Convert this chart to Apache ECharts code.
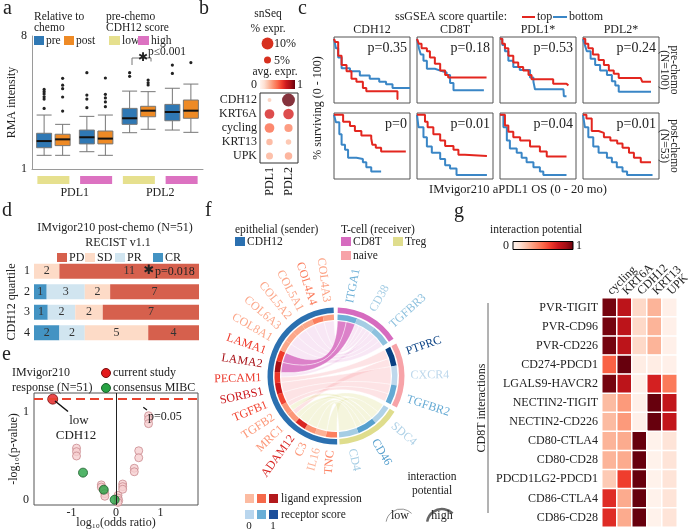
<!DOCTYPE html>
<html>
<head>
<meta charset="utf-8">
<script src="https://cdn.jsdelivr.net/npm/echarts@6/dist/echarts.min.js"></script>
<style>html,body{margin:0;padding:0;background:#fff;}#chart{width:688px;height:532px;}</style>
</head>
<body>
<div id="chart"></div>
<script>
// ================= DATA =================
// Panel a: RMA intensity boxplots [min, Q1, median, Q3, max]
const aCats = ['PDL1 low', 'PDL1 high', 'PDL2 low', 'PDL2 high'];
const aScore = ['low', 'high', 'low', 'high'];
const aGenes = ['PDL1', 'PDL2'];
const aPre = [[1.72, 2.12, 2.47, 2.88, 3.84], [1.91, 2.32, 2.67, 3.05, 3.77], [2.91, 3.35, 3.67, 4.19, 5.10], [3.05, 3.54, 4.00, 4.40, 5.25]];
const aPost = [[1.72, 2.23, 2.56, 2.83, 3.35], [1.72, 2.32, 2.60, 3.00, 3.84], [3.09, 3.75, 4.07, 4.30, 5.07], [2.93, 3.67, 4.07, 4.63, 5.47]];
const aPreOut = [[0, 4.19], [0, 4.68], [0, 4.80], [0, 4.95], [0, 5.07], [0, 5.19], [1, 4.23], [1, 4.68], [1, 4.89], [1, 6.07], [2, 5.88], [2, 6.07], [3, 6.03], [3, 6.47]];
const aPostOut = [[0, 4.05], [0, 4.79], [0, 5.23], [0, 5.41], [0, 5.77], [1, 4.28], [1, 4.53], [1, 4.74], [1, 4.93], [1, 5.79], [2, 5.42], [2, 5.54], [2, 5.68], [3, 6.60]];

// Panel b: snSeq dot plot
const bGenes = ['CDH12', 'KRT6A', 'cycling', 'KRT13', 'UPK'];
const bGroups = ['PDL1', 'PDL2'];
const bExprPDL1 = [0.20, 0.72, 0.50, 0.30, 0.28];
const bExprPDL2 = [1.00, 0.72, 0.42, 0.25, 0.32];
const bPctPDL1 = [3.3, 8.3, 8.3, 5.5, 6.0];
const bPctPDL2 = [11.0, 9.0, 7.0, 4.7, 6.4];

// Panel c: Kaplan-Meier curves [months, % surviving]
const cCols = ['CDH12', 'CD8T', 'PDL1*', 'PDL2*'];
const cPreP = ['0.35', '0.18', '0.53', '0.24'];
const cPostP = ['0', '0.01', '0.04', '0.01'];
const cPreCDH12Top = [[0,100],[0.3,95],[1.1,73],[2,58],[3.3,48],[4.6,36],[5.9,31],[7.6,21],[8.5,16],[16.7,3.5],[16.9,3.5]];
const cPreCDH12Bot = [[0,100],[0.5,85],[1.1,70],[2,53],[4.2,48],[6.8,41],[9.4,36],[11.9,31],[13.7,27],[15.4,21],[20,21]];
const cPreCD8TTop = [[0,100],[0.5,92],[1.2,85],[2.6,80],[3.4,70],[4.7,60],[6.1,49],[7.4,42],[8.2,38],[18.3,38]];
const cPreCD8TBot = [[0,100],[0.5,85],[1,75],[1.7,65],[2.6,52],[4.7,49],[6.1,46],[7.8,42],[8.7,29],[9.6,17.5],[17.6,17.5]];
const cPrePDL1Top = [[0,100],[0.6,92],[1.3,85],[2.2,73],[3.5,62],[4.8,55],[6.1,49],[7.5,42],[8.3,35],[13.2,35],[14,28],[17.5,25],[18,25]];
const cPrePDL1Bot = [[0,100],[0.6,90],[1.3,80],[2.2,65],[3.5,55],[5.2,50],[7.9,38],[8.8,31],[9.2,19],[16.7,19],[16.8,8],[17.5,8]];
const cPrePDL2Top = [[0,100],[0.6,92],[1.4,85],[2.6,75],[4.1,66],[5.5,58],[6.8,49],[8.1,44],[9.4,37],[15.2,37],[15.6,31],[17.9,31]];
const cPrePDL2Bot = [[0,100],[0.5,90],[1,80],[2,68],[3.2,58],[4.5,49],[6.3,42],[7.6,32],[8.5,25],[9.4,15],[17.9,15]];
const cPostCDH12Top = [[0,100],[2.4,89],[4.2,82],[5.5,74],[7.2,67],[9.8,62],[10.1,52],[11,47],[12.4,41],[18.9,41]];
const cPostCDH12Bot = [[0,100],[0.5,88],[1.4,69],[2,52],[2.9,44],[3.7,31],[5.9,29],[7.6,24],[8.5,16],[9.8,9],[12.4,9]];
const cPostCD8TTop = [[0,100],[2.1,89],[2.8,80],[4.3,69],[6.1,59],[7.4,50],[9.6,44],[10.9,36],[12.6,34],[18.4,34]];
const cPostCD8TBot = [[0,100],[0.4,80],[1.7,64],[2.6,49],[3.9,39],[6.1,29],[7.4,19],[8.7,14],[10.4,3.5],[18.4,3.5]];
const cPostPDL1Top = [[0,100],[1.3,83],[2.2,73],[3.5,64],[5.3,59],[7.9,49],[10.5,41],[12.3,33],[17.5,33]];
const cPostPDL1Bot = [[0,100],[0.9,80],[1.8,59],[2.6,46],[4.4,39],[5.7,31],[7,24],[8.8,16],[10.5,9],[11.4,3.5],[17.5,3.5]];
const cPostPDL2Top = [[0,100],[0.9,94],[2.3,74],[4.1,71],[5.5,64],[7.2,59],[9,54],[10.4,47],[12.1,39],[13.4,31],[15.2,24],[17.9,24]];
const cPostPDL2Bot = [[0,100],[0.5,80],[1.4,64],[2.7,49],[4.1,39],[6.3,31],[7.6,24],[8.9,16],[10.4,9],[11.6,3.5],[18.3,3.5]];

// Panel d: RECIST counts per CDH12 quartile
const dQuartiles = ['1', '2', '3', '4'];
const dCR = [0, 1, 1, 2];
const dPR = [0, 3, 2, 2];
const dSD = [2, 2, 2, 5];
const dPD = [11, 7, 7, 4];

// Panel e: volcano [log10 OR, -log10 p]
const ePink = [[-0.886,0.59],[-0.886,0.55],[-0.886,0.50],[-0.33,0.17],[-0.33,0.145],[-0.275,0.107],[-0.25,0.07],[-0.25,0.04],
  [0.045,0.05],[0.045,0.02],[0.06,-0.008],[0.045,-0.03],[0.15,0.18],[0.15,0.15],[0.15,0.12],[0.41,0.36],[0.41,0.32],
  [0.51,0.56],[0.51,0.48],[0.73,0.96],[0.73,0.92],[0.73,0.87]];
const eGreen = [[-0.74,0.31],[-0.275,0.115],[-0.03,0.0]];
const eRed = [[-1.42,1.15]];
const eCut = 1.16;

// Panel f: chord diagram
const ligands = ['COL4A3','COL4A4','COL5A1','COL5A2','COL6A3','COL8A1','LAMA1','LAMA2','PECAM1','SORBS1','TGFB1','TGFB2','MRC1','ADAM12','C3','IL16','TNC'];
const ligExpr = [0.33,0.44,0.31,0.31,0.31,0.31,0.63,0.87,0.64,0.75,0.60,0.36,0.36,0.70,0.37,0.28,0.43];
const ligWeight = [10.5,10.5,10.5,10.5,10.5,10.5,10.5,10.5,10.5,10.5,10.5,10.5,10.5,10.5,10.5,10.5,10.5];
const receptors = ['ITGA1','CD38','TGFBR3','PTPRC','CXCR4','TGFBR2','SDC4','CD46','CD4'];
const recCell = ['CD8T','CD8T','CD8T','naive','naive','naive','Treg','Treg','Treg'];
const recScore = [0.42,0.26,0.33,0.93,0.17,0.45,0.22,0.50,0.26];
const recWeight = [18.5,18.5,18.5,18.5,18.5,18.5,18.5,18.5,18.5];
const fGaps = [3.5, 4.5, 4, 2];
const fLinks = [
  ['COL4A3','CD38',0.3],['COL4A4','CD38',0.3],['COL5A1','CD38',0.3],['PECAM1','CD38',0.3],
  ['COL5A2','TGFBR3',0.3],['COL6A3','TGFBR3',0.3],['COL8A1','TGFBR3',0.3],
  ['LAMA1','ITGA1',1],['LAMA2','ITGA1',1],
  ['PECAM1','PTPRC',0.35],['MRC1','PTPRC',0.3],['SORBS1','CXCR4',0.35],['TGFB1','TGFBR2',0.35],['TGFB2','TGFBR2',0.3],
  ['ADAM12','SDC4',0.3],['TNC','SDC4',0.3],['TGFB2','CD46',0.3],['C3','CD46',0.3],['MRC1','CD46',0.3],['IL16','CD4',0.3]
];

// Panel g: interaction potential heatmap
const gCols = ['cycling', 'KRT6A', 'CDH12', 'KRT13', 'UPK'];
const gRows = ['PVR-TIGIT','PVR-CD96','PVR-CD226','CD274-PDCD1','LGALS9-HAVCR2','NECTIN2-TIGIT','NECTIN2-CD226','CD80-CTLA4','CD80-CD28','PDCD1LG2-PDCD1','CD86-CTLA4','CD86-CD28'];
const gVals = [
  [0.97,0.80,0.15,0.27,0.03],
  [0.97,0.80,0.15,0.27,0.03],
  [0.97,0.80,0.15,0.27,0.03],
  [0.52,1.00,0.05,0.05,0.03],
  [0.97,0.80,0.03,0.72,0.45],
  [0.25,0.35,0.03,1.00,0.78],
  [0.25,0.35,0.03,1.00,0.78],
  [0.27,0.30,1.00,0.02,0.10],
  [0.27,0.30,1.00,0.02,0.10],
  [0.20,0.62,1.00,0.02,0.10],
  [0.68,0.30,1.00,0.02,0.10],
  [0.68,0.30,1.00,0.02,0.10]
];

// ================= STYLE =================
const FF = '"Liberation Serif", "Times New Roman", serif';
const INK = '#222';
const COL = {pre:'#2f78b4', post:'#ee8a25', low:'#e6e08e', high:'#dc72c1', top:'#e3261f', bottom:'#3a86c6',
  PD:'#d6604d', SD:'#fddbc7', PR:'#d1e5f0', CR:'#4393c3', CDH12:'#2b70b0', CD8T:'#d66bbf', naive:'#f7a3a8', Treg:'#dfdd8d'};
const REDS = ['#fff5f0','#fee0d2','#fcbba1','#fc9272','#fb6a4a','#ef3b2c','#cb181d','#a50f15','#67000d'];
const BLUES = ['#deebf7','#c6dbef','#9ecae1','#6baed6','#4292c6','#2171b5','#08519c','#08306b'];
function hex(h){ return [1,3,5].map(i => parseInt(h.substr(i,2),16)); }
function lerpColor(t, pal){ t = Math.max(0, Math.min(1, t)); const f = t*(pal.length-1); const i = Math.min(Math.floor(f), pal.length-2); const u = f-i; const c0 = hex(pal[i]), c1 = hex(pal[i+1]); return 'rgb(' + [0,1,2].map(k => Math.round(c0[k]+(c1[k]-c0[k])*u)).join(',') + ')'; }

// ================= BUILD =================
const grids = [], xAxes = [], yAxes = [], series = [], extraX = [];
function addGrid(g, xa, ya){ const i = grids.length; g.outerBoundsMode = 'none'; grids.push(g); xAxes.push(Object.assign({gridIndex:i, nameMoveOverlap:false}, xa)); yAxes.push(Object.assign({gridIndex:i, nameMoveOverlap:false}, ya)); return i; }
const noAx = {axisLine:{show:false}, axisTick:{show:false}, splitLine:{show:false}};

// --- a ---
const gA = addGrid({left:32, top:36, width:171, height:133},
  {type:'category', data:aCats, axisLine:{lineStyle:{color:'#9a9a9a'}}, axisTick:{show:false}, axisLabel:{show:false}},
  {type:'value', min:1, max:8, interval:7, axisLine:{show:true, lineStyle:{color:'#9a9a9a'}}, axisTick:{show:false}, splitLine:{show:false},
   axisLabel:{fontSize:12, margin:5, color:INK}, name:'RMA intensity', nameLocation:'middle', nameGap:14, nameTextStyle:{fontSize:12, color:INK}});
series.push({type:'boxplot', xAxisIndex:gA, yAxisIndex:gA, data:aPre, boxWidth:[15,15], silent:true, itemStyle:{color:COL.pre, borderColor:'#777', borderWidth:1}});
series.push({type:'boxplot', xAxisIndex:gA, yAxisIndex:gA, data:aPost, boxWidth:[15,15], silent:true, itemStyle:{color:COL.post, borderColor:'#777', borderWidth:1}});
function boxOffset(api, sign){ const bw = api.size([1,0])[0]; return sign*0.2875*(0.8*bw-2); }
function medianSeries(boxes, sign){
  return {type:'custom', xAxisIndex:gA, yAxisIndex:gA, silent:true, z:5, data: boxes.map((b,i)=>[i, b[2]]),
    renderItem(params, api){ const p = api.coord([api.value(0), api.value(1)]); const o = boxOffset(api, sign);
      return {type:'line', shape:{x1:p[0]+o-7.5, y1:p[1], x2:p[0]+o+7.5, y2:p[1]}, style:{stroke:'#111', lineWidth:2}}; }};
}
function outlierSeries(data, sign){
  return {type:'custom', xAxisIndex:gA, yAxisIndex:gA, silent:true, z:5, data,
    renderItem(params, api){ const p = api.coord([api.value(0), api.value(1)]); const o = boxOffset(api, sign);
      return {type:'circle', shape:{cx:p[0]+o, cy:p[1], r:1.6}, style:{fill:'#222'}}; }};
}
series.push(medianSeries(aPre, -1), medianSeries(aPost, 1), outlierSeries(aPreOut, -1), outlierSeries(aPostOut, 1));
const gA2 = addGrid({left:32, top:176, width:171, height:8},
  {type:'category', data:aCats, show:false}, {type:'value', min:0, max:1, show:false});
series.push({type:'bar', xAxisIndex:gA2, yAxisIndex:gA2, barWidth:32, silent:true,
  data: aScore.map(s => ({value:1, itemStyle:{color: s==='low' ? COL.low : COL.high}}))});
extraX.push({gridIndex:gA2, type:'category', data:aGenes, position:'bottom', axisLine:{show:false}, axisTick:{show:false}, axisLabel:{fontSize:12, margin:3, color:INK}});

// --- b ---
const gB = addGrid({left:260, top:93, width:38, height:70, show:true, borderColor:'#333', borderWidth:1},
  Object.assign({type:'category', data:bGroups, axisLabel:{rotate:90, fontSize:12, margin:4, color:INK}}, noAx),
  Object.assign({type:'category', data:bGenes, inverse:true, axisLabel:{fontSize:12, margin:3, color:INK, interval:0}}, noAx));
const bData = [];
bGenes.forEach((g,i) => { bData.push([0, i, bExprPDL1[i], bPctPDL1[i]]); bData.push([1, i, bExprPDL2[i], bPctPDL2[i]]); });
const sB = series.length;
series.push({type:'scatter', xAxisIndex:gB, yAxisIndex:gB, data:bData, symbolSize: v => v[3]*1.17, silent:true});

// --- c ---
const cCurves = [
  [[cPreCDH12Top, cPreCDH12Bot], [cPreCD8TTop, cPreCD8TBot], [cPrePDL1Top, cPrePDL1Bot], [cPrePDL2Top, cPrePDL2Bot]],
  [[cPostCDH12Top, cPostCDH12Bot], [cPostCD8TTop, cPostCD8TBot], [cPostPDL1Top, cPostPDL1Bot], [cPostPDL2Top, cPostPDL2Bot]]
];
const cLeft = [334, 417, 500, 583], cTop = [37, 113], cW = 76, cH = 66;
cCurves.forEach((row, r) => row.forEach((pair, c) => {
  const gi = addGrid({left:cLeft[c], top:cTop[r], width:cW, height:cH, show:true, borderColor:'#555', borderWidth:1},
    {type:'value', min:0, max:20, show:false}, {type:'value', min:-3, max:103, show:false});
  series.push({type:'line', xAxisIndex:gi, yAxisIndex:gi, step:'end', symbol:'none', silent:true, data:pair[1], lineStyle:{width:2, color:COL.bottom}, itemStyle:{color:COL.bottom}});
  series.push({type:'line', xAxisIndex:gi, yAxisIndex:gi, step:'end', symbol:'none', silent:true, data:pair[0], lineStyle:{width:2, color:COL.top}, itemStyle:{color:COL.top}});
}));

// --- d ---
const gD = addGrid({left:34, top:261, width:165, height:82},
  {type:'value', min:0, max:100, show:false},
  Object.assign({type:'category', data:dQuartiles, inverse:true, axisLabel:{fontSize:12, margin:4, color:INK},
    name:'CDH12 quartile', nameLocation:'middle', nameGap:16, nameTextStyle:{fontSize:12, color:INK}}, noAx));
const dTot = dQuartiles.map((q,i) => dCR[i]+dPR[i]+dSD[i]+dPD[i]);
[['CR', dCR], ['PR', dPR], ['SD', dSD], ['PD', dPD]].forEach(([k, arr]) => {
  series.push({type:'bar', xAxisIndex:gD, yAxisIndex:gD, stack:'d', barWidth:15, silent:true, itemStyle:{color:COL[k]},
    label:{show:true, position:'inside', formatter: p => p.data.count, fontSize:12, color:'#333', fontFamily:FF},
    data: arr.map((n,i) => ({value: n/dTot[i]*100, count:n, label:{show:n>0}}))});
});

// --- e ---
const gE = addGrid({left:34, top:393, width:164, height:112, show:true, borderColor:'#555', borderWidth:1},
  Object.assign({type:'value', min:-1.84, max:1.84, axisLabel:{customValues:[-1,0,1], fontSize:12, margin:2, color:INK},
    name:'log\u2081\u2080(odds ratio)', nameLocation:'middle', nameGap:12, nameTextStyle:{fontSize:12, color:INK}}, noAx),
  Object.assign({type:'value', min:-0.06, max:1.22, axisLabel:{customValues:[0,1], fontSize:12, margin:5, color:INK},
    name:'-log\u2081\u2080(p-value)', nameLocation:'middle', nameGap:14, nameTextStyle:{fontSize:12, color:INK}}, noAx));
series.push({type:'scatter', xAxisIndex:gE, yAxisIndex:gE, data:ePink, symbolSize:8, silent:true,
  itemStyle:{color:'#f6d0d1', borderColor:'#c98a8e', borderWidth:1},
  markLine:{silent:true, symbol:'none', label:{show:false}, animation:false,
    data:[{xAxis:0, lineStyle:{color:'#222', width:1, type:'solid'}}, {yAxis:eCut, lineStyle:{color:'#e8432f', width:2, type:[9,5]}}]}});
series.push({type:'scatter', xAxisIndex:gE, yAxisIndex:gE, data:eGreen, symbolSize:9, silent:true, itemStyle:{color:'#27a243', borderColor:'#1a5e2a', borderWidth:1}});
series.push({type:'scatter', xAxisIndex:gE, yAxisIndex:gE, data:eRed, symbolSize:10, silent:true, itemStyle:{color:'#e31a1c', borderColor:'#7a0c0c', borderWidth:1}});

// --- g ---
const gG = addGrid({left:602, top:298, width:75, height:229},
  Object.assign({type:'category', data:gCols, position:'top', axisLabel:{rotate:-45, align:'left', verticalAlign:'middle', fontSize:12, margin:5, color:INK, interval:0}}, noAx),
  Object.assign({type:'category', data:gRows, inverse:true, axisLabel:{fontSize:12, margin:4, color:INK, interval:0}}, noAx));
const gData = [];
gRows.forEach((r,i) => gCols.forEach((c,j) => gData.push([j, i, gVals[i][j]])));
const sG = series.length;
series.push({type:'heatmap', xAxisIndex:gG, yAxisIndex:gG, data:gData, silent:true, itemStyle:{borderColor:'#fff', borderWidth:1.5}});

// --- f: rings (pie) + ribbons (custom on polar) ---
const ringSeq = [];
ringSeq.push({gap:true, value:fGaps[0]});
['CD8T','naive','Treg'].forEach((cell, ci) => {
  if (ci > 0) ringSeq.push({gap:true, value:fGaps[ci]});
  receptors.forEach((r,i) => { if (recCell[i] === cell) ringSeq.push({name:r, value:recWeight[i], color:lerpColor(recScore[i], BLUES), cell}); });
});
ringSeq.push({gap:true, value:fGaps[3]});
for (let i = ligands.length-1; i >= 0; i--) ringSeq.push({name:ligands[i], value:ligWeight[i], color:lerpColor(ligExpr[i], REDS), cell:'CDH12'});
const outerSeq = [];
let prevCell = null;
ringSeq.forEach(it => {
  if (it.gap) { outerSeq.push({gap:true, value:it.value}); prevCell = null; return; }
  if (prevCell === it.cell) outerSeq[outerSeq.length-1].value += it.value;
  else outerSeq.push({name:it.cell, value:it.value, color:COL[it.cell]});
  prevCell = it.cell;
});
const ringTotal = ringSeq.reduce((s,it) => s+it.value, 0);
const geneArc = {};
let acc = 0;
ringSeq.forEach(it => { const a0 = acc/ringTotal*360; acc += it.value; if (!it.gap) geneArc[it.name] = [a0, acc/ringTotal*360]; });
const mid = n => (geneArc[n][0]+geneArc[n][1])/2;
const uses = {};
fLinks.forEach((l,k) => { (uses[l[0]] = uses[l[0]] || []).push(k); (uses[l[1]] = uses[l[1]] || []).push(k); });
const endArc = {};
Object.keys(uses).forEach(name => {
  const list = uses[name].slice().sort((p,q) => {
    const op = fLinks[p][0] === name ? fLinks[p][1] : fLinks[p][0];
    const oq = fLinks[q][0] === name ? fLinks[q][1] : fLinks[q][0];
    return mid(oq) - mid(op);
  });
  const [s, e] = geneArc[name];
  const tw = list.reduce((t,k) => t + fLinks[k][2], 0);
  let c = s;
  list.forEach(k => { const w = (e-s)*fLinks[k][2]/tw; endArc[k+'|'+name] = [c, c+w]; c += w; });
});
const ribbonOrder = fLinks.map((l,k) => k).sort((p,q) => fLinks[p][2]-fLinks[q][2]);
series.push({type:'custom', coordinateSystem:'polar', polarIndex:0, silent:true, z:1,
  data: ribbonOrder.map(k => [fLinks[k][2], k]),
  renderItem(params, api){
    const k = ribbonOrder[params.dataIndex];
    const l = fLinks[k];
    const la = endArc[k+'|'+l[0]], ra = endArc[k+'|'+l[1]];
    const P = a => api.coord([1, a]);
    const C = api.coord([0, 0]);
    const pts = [];
    const arcS = (a0, a1) => { const n = Math.max(2, Math.ceil(Math.abs(a1-a0)/2)); for (let i = 0; i <= n; i++) pts.push(P(a0+(a1-a0)*i/n)); };
    const quad = (p0, p1) => { for (let i = 1; i < 24; i++) { const t = i/24, u = 1-t; pts.push([u*u*p0[0]+2*u*t*C[0]+t*t*p1[0], u*u*p0[1]+2*u*t*C[1]+t*t*p1[1]]); } };
    arcS(la[0], la[1]); quad(P(la[1]), P(ra[0])); arcS(ra[0], ra[1]); quad(P(ra[1]), P(la[0]));
    const cell = recCell[receptors.indexOf(l[1])];
    const alpha = cell === 'CD8T' ? (l[2] >= 1 ? 0.85 : 0.16) : 0.3;
    const rgb = hex(COL[cell]);
    return {type:'polygon', shape:{points:pts}, style:{fill:'rgba('+rgb.join(',')+','+alpha+')', stroke:'rgba(255,255,255,0.7)', lineWidth:0.6}};
  }});
const pieBase = {type:'pie', center:[336,376], startAngle:92, clockwise:true, avoidLabelOverlap:false, silent:true, z:3,
  emphasis:{disabled:true}, itemStyle:{borderWidth:0}};
series.push(Object.assign({}, pieBase, {radius:[56,61.5],
  label:{show:true, position:'outside', rotate:'radial', fontSize:12, fontFamily:FF, distanceToLabelLine:0},
  labelLine:{show:false, length:13, length2:0},
  data: ringSeq.map(it => it.gap ? {name:'', value:it.value, itemStyle:{color:'rgba(0,0,0,0)'}, label:{show:false}}
    : {name:it.name, value:it.value, itemStyle:{color:it.color}, label:{color:it.color}})}));
series.push(Object.assign({}, pieBase, {radius:[63,68.5], label:{show:false}, labelLine:{show:false},
  data: outerSeq.map(it => it.gap ? {name:'', value:it.value, itemStyle:{color:'rgba(0,0,0,0)'}} : {name:it.name, value:it.value, itemStyle:{color:it.color}})}));

// ================= GRAPHIC (annotations / legends) =================
const G = [];
function T(x, y, text, o){ o = o || {}; const st = {text, font:(o.bold?'bold ':'')+(o.size||11)+'px '+(o.ff||FF), fill:o.color||INK, align:o.align||'left', textAlign:o.align||'left', verticalAlign:o.va||'middle', textVerticalAlign:o.va||'middle'};
  if (o.lh) st.lineHeight = o.lh;
  G.push({type:'text', x, y, rotation:o.rot||0, z:100, silent:true, style:st}); }
function R(x, y, w, h, fill, stroke){ G.push({type:'rect', z:100, silent:true, shape:{x, y, width:w, height:h}, style:{fill:fill||'none', stroke:stroke||null, lineWidth:1}}); }
function L(pts, stroke, w){ G.push({type:'polyline', z:100, silent:true, shape:{points:pts}, style:{stroke, lineWidth:w||1, fill:null}}); }
function Cc(cx, cy, r, fill, stroke){ G.push({type:'circle', z:100, silent:true, shape:{cx, cy, r}, style:{fill, stroke:stroke||null, lineWidth:1}}); }
function gradBar(x, y, w, h, border){
  G.push({type:'rect', z:100, silent:true, shape:{x, y, width:w, height:h},
    style:{fill:new echarts.graphic.LinearGradient(0, 0, 1, 0, REDS.map((c,i) => ({offset:i/(REDS.length-1), color:c}))), stroke:border||null, lineWidth:1}});
}

// panel letters
[['a',3,-1],['b',199,-1],['c',298,-1],['d',2,201],['e',2,345],['f',205,201],['g',454,202]].forEach(([t,x,y]) => T(x, y, t, {size:20, va:'top'}));

// a legend + annotation
T(34, 17, 'Relative to', {size:11.5}); T(34, 28, 'chemo', {size:11.5});
R(34, 36, 10, 9, COL.pre); T(46, 40.5, 'pre', {size:11.5});
R(64, 36, 10, 9, COL.post); T(76, 40.5, 'post', {size:11.5});
T(106, 17, 'pre-chemo', {size:11.5}); T(106, 28, 'CDH12 score', {size:11.5});
R(109, 36, 11, 9, COL.low); T(122, 40.5, 'low', {size:11.5});
R(138, 36, 11, 9, COL.high); T(151, 40.5, 'high', {size:11.5});
L([[132,65],[132,58],[151,58],[151,61.5]], '#777', 1);
T(143, 58, '\u2731', {size:12, ff:'"DejaVu Sans"', align:'center'});
T(148, 52, 'p\u22640.001', {size:11.5});

// b legend
T(268, 14, 'snSeq', {size:11.5, align:'center'}); T(268, 29, '% expr.', {size:11.5, align:'center'});
Cc(267.5, 43.5, 5.9, '#d7301f'); T(274, 44, '10%', {size:12});
Cc(267.5, 60, 3.5, '#d7301f'); T(274, 60.5, '5%', {size:12});
T(275, 72, 'avg. expr.', {size:11.5, align:'center'});
gradBar(260, 80, 35, 9);
T(257, 85, '0', {size:12, align:'right'}); T(297, 85, '1', {size:12});

// c legend/titles
T(395, 17, 'ssGSEA score quartile:', {size:12});
L([[522,17],[535,17]], COL.top, 2); T(537, 17, 'top', {size:12});
L([[553,17],[567,17]], COL.bottom, 2); T(569, 17, 'bottom', {size:12});
cCols.forEach((t,i) => T(cLeft[i]+cW/2, 30, t, {size:12, align:'center'}));
[cPreP, cPostP].forEach((row, r) => row.forEach((p, c) => T(cLeft[c]+cW-3, cTop[r]+11, 'p='+p, {size:14, align:'right'})));
T(318, 108, '% surviving (0 - 100)', {size:12, align:'center', rot:Math.PI/2});
T(669.5, 70, 'pre-chemo\n(N=100)', {size:11.5, lh:10, align:'center', rot:-Math.PI/2});
T(669.5, 146, 'post-chemo\n(N=53)', {size:11.5, lh:10, align:'center', rot:-Math.PI/2});
T(518, 190, 'IMvigor210 aPDL1 OS (0 - 20 mo)', {size:12.5, align:'center'});

// d legend
T(115, 228, 'IMvigor210 post-chemo (N=51)', {size:12, align:'center'});
T(118, 243, 'RECIST v1.1', {size:12, align:'center'});
[['PD',57],['SD',85],['PR',115],['CR',153]].forEach(([k,x]) => { R(x, 253, 10, 9, COL[k]); T(x+12, 257.5, k, {size:12}); });
T(149, 271, '\u2731', {size:13, ff:'"DejaVu Sans"', align:'center'});
T(155, 272, 'p=0.018', {size:12});

// e legend + annotations
T(12, 373, 'IMvigor210', {size:12}); T(12, 388, 'response (N=51)', {size:12});
Cc(106, 373, 4.5, '#e31a1c', '#7a0c0c'); T(113, 373, 'current study', {size:12});
Cc(106, 388, 4.5, '#27a243', '#1a5e2a'); T(113, 388, 'consensus MIBC', {size:12});
L([[55,401],[68,411.5]], '#111', 1.5);
T(79, 421, 'low', {size:13, align:'center'}); T(76, 436, 'CDH12', {size:13, align:'center'});
L([[143.3,407.3],[147,410]], '#111', 1.2);
T(148, 417, 'p=0.05', {size:12});

// f legends
T(235, 230, 'epithelial (sender)', {size:11.5});
R(235, 237, 10, 9, COL.CDH12); T(247, 241.5, 'CDH12', {size:11.5});
T(341, 230, 'T-cell (receiver)', {size:11.5});
R(341, 237, 10, 9, COL.CD8T); T(353, 241.5, 'CD8T', {size:11.5});
R(393, 237, 10, 9, COL.Treg); T(405, 241.5, 'Treg', {size:11.5});
R(341, 251, 10, 9, COL.naive); T(353, 255.5, 'naive', {size:11.5});
[[245,'#fcbba1'],[257,'#f5694a'],[269,'#b3191c']].forEach(([x,c]) => R(x, 494, 9, 9, c));
T(281, 498.5, 'ligand expression', {size:11.5});
[[245,'#b9d6ee'],[257,'#6aaed6'],[269,'#1c4f9b']].forEach(([x,c]) => R(x, 510, 9, 9, c));
T(281, 514.5, 'receptor score', {size:11.5});
T(249, 526, '0', {size:11, align:'center'}); T(273, 526, '1', {size:11, align:'center'});
T(432, 477, 'interaction', {size:11.5, align:'center'}); T(432, 491, 'potential', {size:11.5, align:'center'});
G.push({type:'arc', z:100, silent:true, shape:{cx:401, cy:524, r:15, startAngle:Math.PI*1.05, endAngle:Math.PI*1.75}, style:{stroke:'#777', lineWidth:0.8, fill:null}});
G.push({type:'arc', z:100, silent:true, shape:{cx:442, cy:524, r:15, startAngle:Math.PI*1.05, endAngle:Math.PI*1.75}, style:{stroke:'#666', lineWidth:2.5, fill:null}});
T(400, 516, 'low', {size:12, align:'center'}); T(442, 516, 'high', {size:12, align:'center'});

// g legend
T(490, 230, 'interaction potential', {size:11.5});
gradBar(513, 241.5, 60, 8, '#000');
T(509, 246, '0', {size:12, align:'right'}); T(576, 246, '1', {size:12});
T(482, 408, 'CD8T interactions', {size:12, align:'center', rot:Math.PI/2});
L([[488,303],[488,513]], '#666', 1);

// ================= CHART =================
const chart = echarts.init(document.getElementById('chart'), null, {renderer:'canvas'});
chart.setOption({
  animation:false,
  textStyle:{fontFamily:FF, color:INK},
  grid:grids, xAxis:xAxes.concat(extraX), yAxis:yAxes,
  polar:{center:[336,376], radius:55},
  angleAxis:{polarIndex:0, type:'value', min:0, max:360, startAngle:92, clockwise:true, show:false},
  radiusAxis:{polarIndex:0, type:'value', min:0, max:1, show:false},
  visualMap:[
    {type:'continuous', show:false, seriesIndex:sB, dimension:2, min:0, max:1, inRange:{color:REDS}},
    {type:'continuous', show:false, seriesIndex:sG, dimension:2, min:0, max:1, inRange:{color:REDS}}
  ],
  series,
  graphic:{elements:G}
});
</script>
</body>
</html>
